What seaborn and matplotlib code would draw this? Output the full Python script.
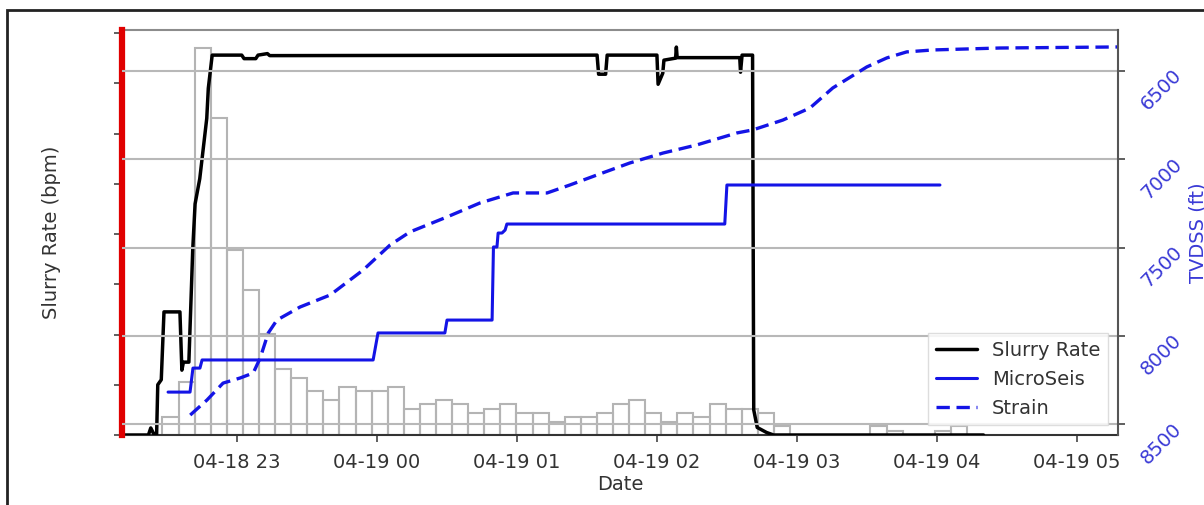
import numpy as np
import pandas as pd
import matplotlib
matplotlib.use("Agg")
import matplotlib.pyplot as plt
import matplotlib.dates as mdates
from matplotlib.patches import Rectangle
from matplotlib.transforms import ScaledTranslation
import seaborn as sns

# ---- slurry rate (bpm) ----
slurry_time = [
    "2019-04-18 22:10:40", "2019-04-18 22:22:00", "2019-04-18 22:23:00", "2019-04-18 22:24:30",
    "2019-04-18 22:25:30", "2019-04-18 22:26:00", "2019-04-18 22:27:30", "2019-04-18 22:28:40",
    "2019-04-18 22:35:30", "2019-04-18 22:36:20", "2019-04-18 22:37:00", "2019-04-18 22:39:20",
    "2019-04-18 22:41:00", "2019-04-18 22:42:00", "2019-04-18 22:44:00", "2019-04-18 22:45:30",
    "2019-04-18 22:47:00", "2019-04-18 22:47:40", "2019-04-18 22:49:20", "2019-04-18 23:02:00",
    "2019-04-18 23:03:00", "2019-04-18 23:08:00", "2019-04-18 23:09:00", "2019-04-18 23:13:00",
    "2019-04-18 23:14:00", "2019-04-19 01:34:20", "2019-04-19 01:35:00", "2019-04-19 01:38:00",
    "2019-04-19 01:38:40", "2019-04-19 02:00:00", "2019-04-19 02:00:30", "2019-04-19 02:02:30",
    "2019-04-19 02:03:00", "2019-04-19 02:08:00", "2019-04-19 02:08:20", "2019-04-19 02:08:40",
    "2019-04-19 02:35:30", "2019-04-19 02:35:50", "2019-04-19 02:36:30", "2019-04-19 02:41:00",
    "2019-04-19 02:41:30", "2019-04-19 02:43:00", "2019-04-19 02:47:00", "2019-04-19 02:50:00",
    "2019-04-19 04:20:00",
]
slurry_bpm = [
    0, 0, 1.4, 0,
    0, 10.0, 11.0, 24.5,
    24.5, 12.9, 14.5, 14.5,
    37.0, 46.0, 51.0, 57.0,
    63.0, 69.0, 75.6, 75.6,
    74.9, 74.9, 75.6, 75.9,
    75.5, 75.6, 71.8, 71.8,
    75.6, 75.6, 69.8, 72.0,
    74.6, 75.0, 77.2, 75.1,
    75.1, 72.2, 75.6, 75.6,
    5.0, 1.5, 0.5, 0,
    0,
]

# ---- microseismic front depth (TVDSS, ft) ----
micro_time = [
    "2019-04-18 22:30:25", "2019-04-18 22:39:50", "2019-04-18 22:41:05", "2019-04-18 22:44:05",
    "2019-04-18 22:45:00", "2019-04-18 23:58:20", "2019-04-19 00:00:25", "2019-04-19 00:29:05",
    "2019-04-19 00:30:00", "2019-04-19 00:49:20", "2019-04-19 00:49:55", "2019-04-19 00:51:25",
    "2019-04-19 00:51:55", "2019-04-19 00:53:35", "2019-04-19 00:54:55", "2019-04-19 00:55:40",
    "2019-04-19 02:29:05", "2019-04-19 02:30:00", "2019-04-19 04:01:20",
]
micro_tvdss = [
    8319, 8319, 8183, 8183,
    8137, 8137, 7984, 7984,
    7911, 7911, 7497, 7497,
    7418, 7418, 7401, 7367,
    7367, 7146, 7146,
]

# ---- strain front depth (TVDSS, ft) ----
strain_time = [
    "2019-04-18 22:39:55", "2019-04-18 22:47:05", "2019-04-18 22:54:00", "2019-04-18 23:01:20",
    "2019-04-18 23:06:55", "2019-04-18 23:09:55", "2019-04-18 23:13:20", "2019-04-18 23:17:05",
    "2019-04-18 23:27:00", "2019-04-18 23:39:55", "2019-04-18 23:54:00", "2019-04-19 00:05:35",
    "2019-04-19 00:14:05", "2019-04-19 00:30:00", "2019-04-19 00:44:05", "2019-04-19 00:58:20",
    "2019-04-19 01:12:55", "2019-04-19 01:22:40", "2019-04-19 01:34:20", "2019-04-19 01:48:25",
    "2019-04-19 02:02:35", "2019-04-19 02:17:05", "2019-04-19 02:34:20", "2019-04-19 02:41:05",
    "2019-04-19 02:54:00", "2019-04-19 03:05:35", "2019-04-19 03:15:25", "2019-04-19 03:30:00",
    "2019-04-19 03:38:35", "2019-04-19 03:47:05", "2019-04-19 03:58:20", "2019-04-19 04:27:00",
    "2019-04-19 05:17:40",
]
strain_tvdss = [
    8449, 8364, 8268, 8239,
    8211, 8126, 7985, 7911,
    7837, 7769, 7628, 7486,
    7412, 7327, 7248, 7191,
    7191, 7146, 7089, 7021,
    6965, 6919, 6851, 6834,
    6778, 6710, 6596, 6477,
    6426, 6392, 6381, 6370,
    6364,
]

# ---- microseismic event counts per time bin ----
event_bin_start = "2019-04-18 22:28:00"
event_bin_minutes = 6.9
event_counts = [
    4, 12, 88, 72, 42, 33, 23, 15, 13, 10,
    8, 11, 10, 10, 11, 6, 7, 8, 7, 5,
    6, 7, 5, 5, 3, 4, 4, 5, 7, 8,
    5, 3, 5, 4, 7, 6, 6, 5, 2, 0,
    0, 0, 0, 0, 2, 1, 0, 0, 1, 2,
]

depth_ticks = [6500, 7000, 7500, 8000, 8500]
rate_ticks = list(range(0, 81, 10))
x_start, x_end = "2019-04-18 22:10:40", "2019-04-19 05:17:40"

# ---------------------------------------------------------------
sns.set_theme(style="ticks")
plt.rcParams["font.family"] = ["DejaVu Sans"]
text_col = "#333333"
blue = "#1414e6"
depth_col = "#3a3ad6"

fig = plt.figure(figsize=(12.04, 5.05), dpi=100)
ax_cnt = fig.add_axes([122 / 1204, 1 - 435 / 505, 996 / 1204, 405 / 505])
ax_rate = ax_cnt.twinx()
ax_depth = ax_cnt.twinx()

# event histogram (outlined grey bars), binned on the date axis in days
bin_days = event_bin_minutes / 1440.0
first_edge = mdates.date2num(pd.Timestamp(event_bin_start))
last_edge = first_edge + len(event_counts) * bin_days
events = pd.DataFrame({
    "time": pd.Timestamp(event_bin_start)
    + pd.to_timedelta((np.arange(len(event_counts)) + 0.5) * event_bin_minutes, unit="min"),
    "count": event_counts,
})
sns.histplot(data=events, x="time", weights="count",
             binwidth=bin_days, binrange=(first_edge, last_edge - bin_days * 0.01),
             ax=ax_cnt, fill=False, element="bars", color="#b4b4b4", linewidth=1.5)
ax_cnt.set_ylim(0, 92)

# slurry rate
slurry = pd.DataFrame({"time": pd.to_datetime(slurry_time), "rate": slurry_bpm})
sns.lineplot(data=slurry, x="time", y="rate", ax=ax_rate, color="black",
             linewidth=2.5, estimator=None, sort=False, label="Slurry Rate")
ax_rate.set_ylim(0, 80.6)

# depth fronts
micro = pd.DataFrame({"time": pd.to_datetime(micro_time), "tvdss": micro_tvdss})
strain = pd.DataFrame({"time": pd.to_datetime(strain_time), "tvdss": strain_tvdss})
sns.lineplot(data=micro, x="time", y="tvdss", ax=ax_depth, color=blue,
             linewidth=2.2, estimator=None, sort=False, label="MicroSeis")
sns.lineplot(data=strain, x="time", y="tvdss", ax=ax_depth, color=blue,
             linewidth=2.4, estimator=None, sort=False, label="Strain",
             linestyle=(0, (4, 2)))
ax_depth.set_ylim(8562, 6268)

for a in (ax_rate, ax_depth):
    lg = a.get_legend()
    if lg is not None:
        lg.remove()

ax_cnt.set_xlim(pd.Timestamp(x_start), pd.Timestamp(x_end))
ax_cnt.xaxis.set_major_locator(mdates.HourLocator())
ax_cnt.xaxis.set_major_formatter(mdates.DateFormatter("%m-%d %H"))
ax_cnt.tick_params(axis="x", labelsize=14, labelcolor=text_col, colors="#444444",
                   length=5, width=1.2, pad=8)
ax_cnt.yaxis.set_visible(False)
ax_cnt.set_xlabel("Date", fontsize=14, color=text_col)
ax_cnt.xaxis.set_label_coords(0.5, -0.10)
ax_cnt.xaxis.label.set_va("top")

# left axis
ax_rate.yaxis.tick_left()
ax_rate.yaxis.set_label_position("left")
ax_rate.set_yticks(rate_ticks)
ax_rate.tick_params(axis="y", labelleft=False, colors="#444444", length=6, width=1.2)
ax_rate.set_ylabel("Slurry Rate (bpm)", fontsize=14, color=text_col)
ax_rate.yaxis.set_label_coords(-0.061, 0.5)
ax_rate.set_xlabel("")

# right axis: rotated labels hanging just below each tick
ax_depth.set_yticks(depth_ticks)
ax_depth.tick_params(axis="y", labelsize=14, labelcolor=depth_col, colors="#444444",
                     length=5, width=1.2, labelrotation=45, pad=9)
ax_depth.set_ylabel("TVDSS (ft)", fontsize=14, color=depth_col)
ax_depth.yaxis.set_label_coords(1.071, 0.5)
ax_depth.grid(axis="y", color="#b8b8b8", linewidth=1.5)
ax_depth.set_axisbelow(True)
ax_depth.set_xlabel("")

# spines
for a in (ax_cnt, ax_rate, ax_depth):
    for s in a.spines.values():
        s.set_visible(False)
ax_cnt.spines["top"].set_visible(True)
ax_cnt.spines["top"].set_color("#8c8c8c")
ax_cnt.spines["top"].set_linewidth(1.5)
ax_cnt.spines["bottom"].set_visible(True)
ax_cnt.spines["bottom"].set_color("#333333")
ax_cnt.spines["bottom"].set_linewidth(1.5)
ax_depth.spines["right"].set_visible(True)
ax_depth.spines["right"].set_color("#555555")
ax_depth.spines["right"].set_linewidth(1.5)
ax_rate.spines["left"].set_visible(True)
ax_rate.spines["left"].set_color("#e00000")
ax_rate.spines["left"].set_linewidth(4.5)

# combined legend
h1, l1 = ax_rate.get_legend_handles_labels()
h2, l2 = ax_depth.get_legend_handles_labels()
leg = ax_depth.legend(h1 + h2, l1 + l2, loc="lower right", fontsize=14, frameon=True,
                      fancybox=False, edgecolor="#d8d8d8", framealpha=0.85,
                      handlelength=2.1)
for t in leg.get_texts():
    t.set_color(text_col)

# outer frame
fig.add_artist(Rectangle((7 / 1204, -0.1), 1.1, 1.08, transform=fig.transFigure,
                         fill=False, edgecolor="#222222", linewidth=2))

# nudge the rotated depth labels so each one hangs just under its tick
lift = ScaledTranslation(0, 0.05, fig.dpi_scale_trans)
for lbl in ax_depth.get_yticklabels():
    lbl.set_va("top")
    lbl.set_transform(lbl.get_transform() + lift)

fig.savefig("out.png", dpi=100)
